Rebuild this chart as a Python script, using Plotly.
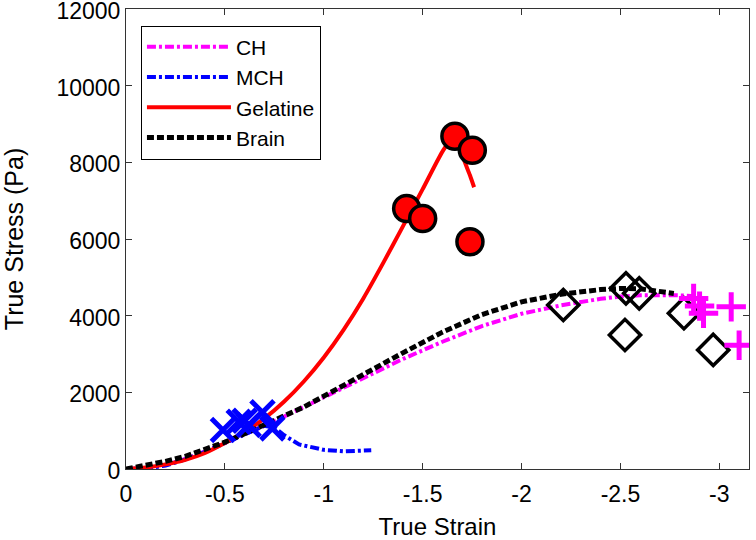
import plotly.graph_objects as go

# ---- data ----
ch_strain = [0, -0.1, -0.2, -0.3, -0.4, -0.5, -0.6, -0.7, -0.8, -0.9, -1.0, -1.2, -1.4, -1.6, -1.8, -2.0, -2.2, -2.4, -2.5, -2.6, -2.7, -2.8, -2.9]
ch_stress = [0, 20, 100, 260, 460, 680, 900, 1130, 1370, 1620, 1870, 2380, 2870, 3320, 3730, 4050, 4270, 4440, 4500, 4530, 4540, 4530, 4500]

mch_strain = [0, -0.1, -0.2, -0.3, -0.4, -0.5, -0.6, -0.7, -0.75, -0.8, -0.875, -0.95, -1.0, -1.1, -1.2, -1.24]
mch_stress = [0, 10, 90, 250, 450, 680, 900, 1130, 1080, 880, 640, 540, 500, 460, 470, 490]

gel_strain = [0, -0.1, -0.2, -0.3, -0.4, -0.5, -0.6, -0.7, -0.8, -0.9, -1.0, -1.1, -1.2, -1.3, -1.4, -1.5, -1.6, -1.66, -1.69, -1.71, -1.74, -1.76]
gel_stress = [0, 40, 120, 240, 420, 680, 970, 1320, 1760, 2290, 2910, 3630, 4450, 5370, 6330, 7300, 8280, 8700, 8450, 8050, 7650, 7350]

brain_strain = [0, -0.1, -0.2, -0.3, -0.4, -0.5, -0.6, -0.7, -0.8, -0.9, -1.0, -1.2, -1.4, -1.6, -1.8, -2.0, -2.2, -2.4, -2.5, -2.6, -2.7, -2.77]
brain_stress = [0, 90, 200, 330, 500, 700, 920, 1150, 1380, 1620, 1900, 2480, 3030, 3570, 4030, 4360, 4560, 4680, 4710, 4700, 4640, 4580]

gel_pts_strain = [-1.419, -1.50, -1.663, -1.751, -1.739]
gel_pts_stress = [6797, 6536, 8680, 8315, 5927]

mch_pts_strain = [-0.49, -0.57, -0.60, -0.62, -0.69, -0.74]
mch_pts_stress = [1020, 1230, 1260, 1150, 1480, 1060]

brain_pts_strain = [-2.211, -2.528, -2.595, -2.523, -2.821, -2.969]
brain_pts_stress = [4279, 4713, 4583, 3497, 4062, 3107]

ch_pts_strain = [-2.87, -2.90, -2.92, -3.06, -3.10]
ch_pts_stress = [4450, 4250, 4060, 4230, 3230]

x_tickvals = [0, -0.5, -1, -1.5, -2, -2.5, -3]
x_ticktext = ["0", "-0.5", "-1", "-1.5", "-2", "-2.5", "-3"]
y_tickvals = [0, 2000, 4000, 6000, 8000, 10000, 12000]
y_ticktext = ["0", "2000", "4000", "6000", "8000", "10000", "12000"]

FONT = "Liberation Sans, Arial, sans-serif"

fig = go.Figure()

fig.add_trace(go.Scatter(x=ch_strain, y=ch_stress, mode="lines", name="CH",
                         line=dict(color="#FF00FF", width=4, dash="9px,3px,3px,3px")))
fig.add_trace(go.Scatter(x=mch_strain, y=mch_stress, mode="lines", name="MCH",
                         line=dict(color="#0000FF", width=4, dash="9px,3px,3px,3px")))
fig.add_trace(go.Scatter(x=gel_strain, y=gel_stress, mode="lines", name="Gelatine",
                         line=dict(color="#FF0000", width=4, shape="spline", smoothing=0.6)))
fig.add_trace(go.Scatter(x=brain_strain, y=brain_stress, mode="lines", name="Brain",
                         line=dict(color="#000000", width=5, dash="7px,3px")))

fig.add_trace(go.Scatter(x=gel_pts_strain, y=gel_pts_stress, mode="markers", showlegend=False,
                         marker=dict(symbol="circle", size=26, color="#FF0000",
                                     line=dict(color="#000000", width=3.5))))
fig.add_trace(go.Scatter(x=mch_pts_strain, y=mch_pts_stress, mode="markers", showlegend=False,
                         marker=dict(symbol="x-thin", size=23,
                                     line=dict(color="#0000FF", width=5))))
fig.add_trace(go.Scatter(x=brain_pts_strain, y=brain_pts_stress, mode="markers", showlegend=False,
                         marker=dict(symbol="diamond-open", size=24, color="#000000",
                                     line=dict(color="#000000", width=3.5))))
fig.add_trace(go.Scatter(x=ch_pts_strain, y=ch_pts_stress, mode="markers", showlegend=False,
                         marker=dict(symbol="cross-thin", size=21,
                                     line=dict(color="#FF00FF", width=5))))

fig.update_layout(
    width=756, height=540,
    margin=dict(l=126, r=7, t=9, b=71, autoexpand=False),
    paper_bgcolor="white", plot_bgcolor="white",
    font=dict(family=FONT, size=23, color="black"),
    showlegend=True,
    legend=dict(x=0.024, y=0.964, xanchor="left", yanchor="top",
                bgcolor="white", bordercolor="black", borderwidth=1,
                font=dict(size=21, family=FONT), itemwidth=84,
                tracegroupgap=0),
)
fig.update_xaxes(range=[0, -3.15], tickmode="array", tickvals=x_tickvals, ticktext=x_ticktext,
                 ticks="inside", ticklen=6, tickcolor="#333", showline=True, linecolor="#333",
                 linewidth=1, mirror="ticks", showgrid=False, zeroline=False, automargin=False,
                 ticklabeloverflow="allow", ticklabelstandoff=4,
                 title=dict(text="True Strain", font=dict(size=24, family=FONT), standoff=15),
                 tickfont=dict(size=23, family=FONT))
fig.update_yaxes(range=[0, 12000], tickmode="array", tickvals=y_tickvals, ticktext=y_ticktext,
                 ticks="inside", ticklen=6, tickcolor="#333", showline=True, linecolor="#333",
                 linewidth=1, mirror="ticks", showgrid=False, zeroline=False, automargin=False,
                 ticklabeloverflow="allow", ticklabelshift=2,
                 title=dict(text="True Stress (Pa)", font=dict(size=25, family=FONT), standoff=26),
                 tickfont=dict(size=23, family=FONT))

fig.write_html("out.html", config={"displayModeBar": False},
               post_script="document.body.style.margin='0';document.body.style.overflow='hidden';")
